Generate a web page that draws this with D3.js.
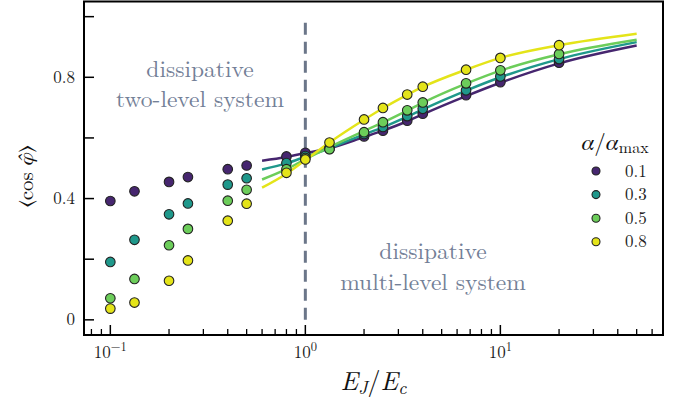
<!DOCTYPE html>
<html>
<head>
<meta charset="utf-8">
<script src="https://cdn.jsdelivr.net/npm/d3@7"></script>
<style>
  body { margin: 0; background: #fff; }
</style>
</head>
<body>
<div id="chart"></div>
<script>
// data
var ejec = [0.1, 0.133, 0.2, 0.25, 0.4, 0.5, 0.8, 1, 1.33, 2, 2.5, 3.33, 4, 6.67, 10, 20];
var cos01 = [0.392, 0.424, 0.455, 0.471, 0.497, 0.509, 0.539, 0.551, 0.564, 0.605, 0.624, 0.657, 0.680, 0.741, 0.784, 0.848];
var cos03 = [0.191, 0.264, 0.348, 0.384, 0.446, 0.467, 0.517, 0.540, 0.566, 0.613, 0.636, 0.672, 0.696, 0.757, 0.803, 0.860];
var cos05 = [0.071, 0.135, 0.246, 0.300, 0.393, 0.429, 0.497, 0.534, 0.563, 0.619, 0.652, 0.691, 0.717, 0.780, 0.823, 0.877];
var cos08 = [0.037, 0.057, 0.129, 0.196, 0.327, 0.383, 0.485, 0.529, 0.585, 0.661, 0.699, 0.743, 0.769, 0.825, 0.864, 0.906];

// fitted curves (multi-level regime)
var ejecFit = [0.6, 0.8, 1, 1.33, 2, 2.5, 3.33, 4, 6.67, 10, 20, 50];
var fit01 = [0.525, 0.537, 0.550, 0.566, 0.603, 0.624, 0.655, 0.678, 0.738, 0.782, 0.846, 0.905];
var fit03 = [0.496, 0.516, 0.538, 0.566, 0.612, 0.635, 0.670, 0.694, 0.756, 0.800, 0.860, 0.916];
var fit05 = [0.463, 0.497, 0.530, 0.570, 0.623, 0.651, 0.690, 0.716, 0.779, 0.822, 0.876, 0.924];
var fit08 = [0.436, 0.482, 0.527, 0.585, 0.660, 0.698, 0.742, 0.768, 0.825, 0.864, 0.906, 0.944];

var alphaLabels = ["0.1", "0.3", "0.5", "0.8"];
var colors = ["#46266f", "#1f988b", "#6ccd5a", "#e4e419"];

var xMajor = [0.1, 1, 10];
var xMajorExp = ["\u22121", "0", "1"];
var yTicks = [0, 0.2, 0.4, 0.6, 0.8, 1.0];
var yLabels = {0: "0", 0.4: "0.4", 0.8: "0.8"};

var FONT = "'Latin Modern Roman', 'CMU Serif', 'FreeSerif', serif";
var GREEK = "'FreeSerif', serif";

var svgWidth = 677;
var svgHeight = 402;
var margin = {top: 1.5, right: 14, bottom: 67, left: 84};
var width = svgWidth - margin.left - margin.right;
var height = svgHeight - margin.top - margin.bottom;

var svg = d3.select("#chart")
    .append("svg")
    .attr("width", svgWidth)
    .attr("height", svgHeight);

var chartGroup = svg.append("g")
    .attr("transform", `translate(${margin.left}, ${margin.top})`);

var xScale = d3.scaleLog()
    .domain([Math.pow(10, -1.135), Math.pow(10, 1.834)])
    .range([0, width]);

var yScale = d3.scaleLinear()
    .domain([-0.05, 1.05])
    .range([height, 0]);

// minor x ticks
var xMinor = [];
[-2, -1, 0, 1].forEach(function(k) {
    for (var m = 2; m <= 9; m++) {
        var v = m * Math.pow(10, k);
        if (v > xScale.domain()[0] && v < xScale.domain()[1]) xMinor.push(v);
    }
});

chartGroup.selectAll(".xminor")
    .data(xMinor)
    .enter()
    .append("line")
    .attr("x1", d => xScale(d))
    .attr("x2", d => xScale(d))
    .attr("y1", height)
    .attr("y2", height - 6)
    .attr("stroke", "#000")
    .attr("stroke-width", 1.3);

chartGroup.selectAll(".xmajor")
    .data(xMajor)
    .enter()
    .append("line")
    .attr("x1", d => xScale(d))
    .attr("x2", d => xScale(d))
    .attr("y1", height)
    .attr("y2", height - 10)
    .attr("stroke", "#000")
    .attr("stroke-width", 1.5);

var xLab = chartGroup.selectAll(".xlab")
    .data(xMajor)
    .enter()
    .append("text")
    .style("font-family", FONT)
    .attr("x", d => xScale(d))
    .attr("y", height + 23)
    .attr("text-anchor", "middle")
    .attr("font-size", 17)
    .attr("fill", "#222");
xLab.append("tspan").text("10");
xLab.append("tspan")
    .attr("dy", -7)
    .attr("font-size", 12.5)
    .text((d, i) => xMajorExp[i]);

chartGroup.selectAll(".ytick")
    .data(yTicks)
    .enter()
    .append("line")
    .attr("x1", 0)
    .attr("x2", 10)
    .attr("y1", d => yScale(d))
    .attr("y2", d => yScale(d))
    .attr("stroke", "#000")
    .attr("stroke-width", 1.5);

chartGroup.selectAll(".ylab")
    .data(yTicks.filter(d => yLabels[d] !== undefined))
    .enter()
    .append("text")
    .style("font-family", FONT)
    .attr("x", -9)
    .attr("y", d => yScale(d) + 5.5)
    .attr("text-anchor", "end")
    .attr("font-size", 17)
    .attr("fill", "#222")
    .text(d => yLabels[d]);

// frame
chartGroup.append("rect")
    .attr("x", 0)
    .attr("y", 0)
    .attr("width", width)
    .attr("height", height)
    .attr("fill", "none")
    .attr("stroke", "#000")
    .attr("stroke-width", 2);

// dashed divider at EJ/Ec = 1
chartGroup.append("line")
    .attr("x1", xScale(1))
    .attr("x2", xScale(1))
    .attr("y1", yScale(0))
    .attr("y2", yScale(1))
    .attr("stroke", "#6b7689")
    .attr("stroke-width", 3)
    .attr("stroke-dasharray", "12,7");

// regime annotations
var noteColor = "#738097";
function note(x, y, txt) {
    chartGroup.append("text")
        .style("font-family", FONT)
        .attr("x", x - margin.left)
        .attr("y", y - margin.top)
        .attr("text-anchor", "middle")
        .attr("font-size", 23.5)
        .attr("fill", noteColor)
        .text(txt);
}
note(200, 77, "dissipative");
note(200, 107, "two-level system");
note(433, 259, "dissipative");
note(433, 290, "multi-level system");

// fitted lines
var fits = [fit01, fit03, fit05, fit08];
var line = d3.line()
    .x(d => xScale(d[0]))
    .y(d => yScale(d[1]))
    .curve(d3.curveMonotoneX);

fits.forEach(function(f, i) {
    chartGroup.append("path")
        .datum(ejecFit.map((x, j) => [x, f[j]]))
        .attr("d", line)
        .attr("fill", "none")
        .attr("stroke", colors[i])
        .attr("stroke-width", 2.5);
});

// data points
var series = [cos01, cos03, cos05, cos08];
series.forEach(function(s, i) {
    chartGroup.selectAll(null)
        .data(ejec.map((x, j) => [x, s[j]]))
        .enter()
        .append("circle")
        .attr("cx", d => xScale(d[0]))
        .attr("cy", d => yScale(d[1]))
        .attr("r", 4.8)
        .attr("fill", colors[i])
        .attr("stroke", "#222")
        .attr("stroke-width", 1.1);
});

// legend
var legend = svg.append("g");
var lt = legend.append("text")
    .style("font-family", FONT)
    .attr("x", 615)
    .attr("y", 150)
    .attr("text-anchor", "middle")
    .attr("font-size", 23)
    .attr("fill", "#111");
lt.append("tspan").style("font-family", GREEK).attr("font-style", "italic").text("\u03b1");
lt.append("tspan").text("/");
lt.append("tspan").style("font-family", GREEK).attr("font-style", "italic").text("\u03b1");
lt.append("tspan").attr("dy", 3).attr("font-size", 16).text("max");

alphaLabels.forEach(function(a, i) {
    var yy = 171 + i * 23.6;
    legend.append("circle")
        .attr("cx", 596)
        .attr("cy", yy)
        .attr("r", 4)
        .attr("fill", colors[i])
        .attr("stroke", "#222")
        .attr("stroke-width", 1.1);
    legend.append("text")
        .style("font-family", FONT)
        .attr("x", 625)
        .attr("y", yy + 5.5)
        .attr("font-size", 17)
        .attr("fill", "#222")
        .text(a);
});

// axis titles
var xt = svg.append("text")
    .style("font-family", FONT)
    .attr("x", margin.left + width / 2)
    .attr("y", 390)
    .attr("text-anchor", "middle")
    .attr("font-size", 26)
    .attr("fill", "#111");
xt.append("tspan").attr("font-style", "italic").text("E");
xt.append("tspan").attr("font-style", "italic").attr("dy", 4).attr("font-size", 18).text("J");
xt.append("tspan").attr("dy", -4).text("/");
xt.append("tspan").attr("font-style", "italic").text("E");
xt.append("tspan").attr("font-style", "italic").attr("dy", 4).attr("font-size", 18).text("c");

var yt = svg.append("text")
    .style("font-family", FONT)
    .attr("transform", `translate(33, ${margin.top + height / 2 + 8}) rotate(-90)`)
    .attr("text-anchor", "middle")
    .attr("font-size", 21)
    .attr("fill", "#111");
yt.append("tspan").text("\u27e8cos ");
yt.append("tspan").style("font-family", GREEK).attr("font-style", "italic").text("\u03c6\u0302");
yt.append("tspan").text("\u27e9");
</script>
</body>
</html>
